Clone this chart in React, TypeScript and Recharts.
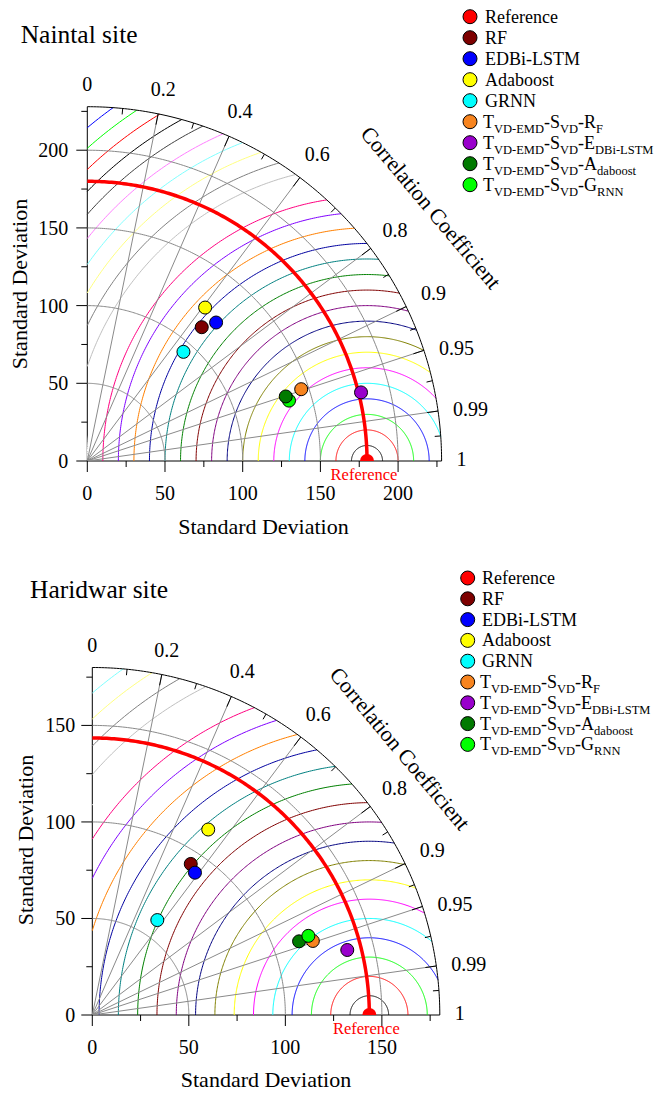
import React from 'react';
import { ScatterChart, Scatter, XAxis, YAxis, ReferenceDot } from 'recharts';

const FONT = '"Liberation Serif", "Times New Roman", Times, serif';

// ---------- data ----------
const modelNames = ['RF', 'EDBi-LSTM', 'Adaboost', 'GRNN', 'TVD-EMD-SVD-RF', 'TVD-EMD-SVD-EDBi-LSTM', 'TVD-EMD-SVD-Adaboost', 'TVD-EMD-SVD-GRNN'];
const modelColors = ['#7d0000', '#0000ff', '#ffff00', '#00ffff', '#f7841f', '#9900cc', '#007a00', '#00ff00'];
const referenceColor = '#ff0000';

// Naintal site: standard deviation and correlation of each model
const naintalStd = [113.3, 121.7, 124.5, 93.6, 145.2, 181.6, 134.3, 135.5];
const naintalCorr = [0.65, 0.681, 0.609, 0.661, 0.948, 0.97, 0.951, 0.958];
const naintalRefStd = 180;
const naintalMaxStd = 228;
const naintalDrawOrder = [0, 1, 2, 3, 7, 4, 5, 6];
const naintalStdTicks = [0, 25, 50, 75, 100, 125, 150, 175, 200, 225];
const naintalStdArcs = [50, 100, 150, 200];

// Haridwar site
const haridwarStd = [93.4, 90.9, 113.3, 59.6, 120.5, 136.3, 113.7, 119.2];
const haridwarCorr = [0.546, 0.585, 0.53, 0.565, 0.948, 0.969, 0.942, 0.939];
const haridwarRefStd = 143.5;
const haridwarMaxStd = 180;
const haridwarDrawOrder = [0, 1, 2, 3, 6, 4, 7, 5];
const haridwarStdTicks = [0, 25, 50, 75, 100, 125, 150, 175];
const haridwarStdArcs = [50, 100, 150];

// correlation axis
const corrLabels = ['0', '0.2', '0.4', '0.6', '0.8', '0.9', '0.95', '0.99', '1'];
const corrMajor = [0, 0.2, 0.4, 0.6, 0.8, 0.9, 0.95, 0.99, 1];
const corrMinor = [0.1, 0.3, 0.5, 0.7, 0.85, 0.927, 0.974, 0.9975];
const corrRays = [0.2, 0.4, 0.6, 0.8, 0.9, 0.95, 0.99];

// centred RMS difference contours (every 10 units) and their colours
const rmsStep = 10;
const rmsColors = ['#000000', '#ff0000', '#00ff00', '#0000ff', '#00ffff', '#ff00ff', '#ffff00', '#808000', '#000080', '#800080', '#800000', '#008000', '#008080', '#0000a0', '#ff8000', '#8000ff', '#ff0080', '#ffffff', '#c0c0c0', '#808080', '#ffff80', '#80ffff', '#ff80ff', '#404040'];

const legendParts: string[][] = [
  ['Reference'],
  ['RF'],
  ['EDBi-LSTM'],
  ['Adaboost'],
  ['GRNN'],
  ['T', 'VD-EMD', '-S', 'VD', '-R', 'F'],
  ['T', 'VD-EMD', '-S', 'VD', '-E', 'DBi-LSTM'],
  ['T', 'VD-EMD', '-S', 'VD', '-A', 'daboost'],
  ['T', 'VD-EMD', '-S', 'VD', '-G', 'RNN'],
];

// ---------- geometry helpers ----------
type Pt = { x: number; y: number };
const clamp = (v: number, a: number, b: number) => Math.min(b, Math.max(a, v));
const sinOf = (c: number) => Math.sqrt(Math.max(0, 1 - c * c));

function circlePts(cx: number, r: number, a0: number, a1: number, R: number): Pt[] {
  const span = a1 - a0;
  const n = Math.max(8, Math.ceil((Math.abs(span) * 180) / Math.PI * 2));
  const pts: Pt[] = [];
  for (let i = 0; i <= n; i++) {
    const a = a0 + (span * i) / n;
    pts.push({ x: clamp(cx + r * Math.cos(a), 0, R), y: clamp(r * Math.sin(a), 0, R) });
  }
  return pts;
}

function rmsArc(ref: number, r: number, R: number): Pt[] | null {
  const cmin = clamp((R * R - ref * ref - r * r) / (2 * ref * r), -1, 1);
  const phiMin = Math.acos(cmin);
  const phiMax = Math.acos(clamp(-ref / r, -1, 1));
  if (phiMax - phiMin < 0.01) return null;
  return circlePts(ref, r, phiMin, phiMax, R);
}

const noShape = () => <g />;

const textWidth = (s: string) => s.split('').reduce((a, ch) => a + (ch === '.' ? 5 : 10), 0);

type PanelProps = {
  std: number[];
  corr: number[];
  refStd: number;
  maxStd: number;
  order: number[];
  stdTicks: number[];
  stdArcs: number[];
  originX: number;
  originY: number; // relative to chart top
  plotSize: number;
  chartHeight: number;
  yLabelGap: number;
  titleR: number; // px from origin
  titleAngle: number; // degrees
  titleRot: number;
};

function TaylorPanel(p: PanelProps) {
  const R = p.maxStd;
  const scale = p.plotSize / R;
  const width = 654;
  const axisW = 60;
  const axisH = 40;
  const margin = {
    top: p.originY - p.plotSize,
    left: p.originX - axisW,
    right: width - p.originX - p.plotSize,
    bottom: p.chartHeight - p.originY - axisH,
  };

  const XTick = (t: any) => {
    const v = t.payload.value;
    const major = v % 50 === 0;
    return (
      <g>
        <line x1={t.x} y1={t.y} x2={t.x} y2={t.y + (major ? 11 : 6)} stroke="#000" strokeWidth={1} />
        {major && (
          <text x={t.x} y={t.y + 39} textAnchor="middle" fontSize={20} fontFamily={FONT} fill="#000">
            {v}
          </text>
        )}
      </g>
    );
  };
  const YTick = (t: any) => {
    const v = t.payload.value;
    const major = v % 50 === 0;
    return (
      <g>
        <line x1={t.x - (major ? 11 : 6)} y1={t.y} x2={t.x} y2={t.y} stroke="#000" strokeWidth={1} />
        {major && (
          <text x={t.x - p.yLabelGap} y={t.y + 7} textAnchor="end" fontSize={20} fontFamily={FONT} fill="#000">
            {v}
          </text>
        )}
      </g>
    );
  };

  // RMS contours
  const rmsLines: { pts: Pt[]; color: string }[] = [];
  for (let i = 0; (i + 1) * rmsStep < p.refStd + R; i++) {
    const r = (i + 1) * rmsStep;
    const pts = rmsArc(p.refStd, r, R);
    if (pts) rmsLines.push({ pts, color: rmsColors[i % rmsColors.length] });
  }

  const tickSeg = (c: number, lenPx: number): Pt[] => {
    const s = sinOf(c);
    const r2 = R - lenPx / scale;
    return [
      { x: clamp(R * c, 0, R), y: clamp(R * s, 0, R) },
      { x: r2 * c, y: r2 * s },
    ];
  };

  // position of a correlation label (data units)
  const labelPos = (c: number, label: string): Pt => {
    const s = sinOf(c);
    const w = textWidth(label);
    if (c >= 0.95) {
      return { x: R * c + (15 + w / 2) / scale, y: R * s + 2 / scale };
    }
    const off = 16 + (w / 2) * c + 7 * s;
    const r = R + off / scale;
    return { x: r * c, y: r * s };
  };

  const titleA = (p.titleAngle * Math.PI) / 180;
  const titleRu = p.titleR / scale;

  return (
    <ScatterChart width={width} height={p.chartHeight} margin={margin}>
      <XAxis
        type="number"
        dataKey="x"
        domain={[0, R]}
        ticks={p.stdTicks}
        interval={0}
        tickSize={0}
        tickMargin={0}
        tickLine={false}
        axisLine={{ stroke: '#000', strokeWidth: 1 }}
        tick={(t: any) => <XTick {...t} />}
        height={axisH}
      />
      <YAxis
        type="number"
        dataKey="y"
        domain={[0, R]}
        ticks={p.stdTicks}
        interval={0}
        tickSize={0}
        tickMargin={0}
        tickLine={false}
        axisLine={{ stroke: '#000', strokeWidth: 1 }}
        tick={(t: any) => <YTick {...t} />}
        width={axisW}
      />
      {rmsLines.map((l, i) => (
        <Scatter key={'rms' + i} data={l.pts} line={{ stroke: l.color, strokeWidth: 1 }} lineType="joint" shape={noShape} isAnimationActive={false} />
      ))}
      {p.stdArcs.map((r) => (
        <Scatter key={'sa' + r} data={circlePts(0, r, 0, Math.PI / 2, R)} line={{ stroke: '#8a8a8a', strokeWidth: 1 }} lineType="joint" shape={noShape} isAnimationActive={false} />
      ))}
      {corrRays.map((c) => (
        <Scatter key={'ray' + c} data={[{ x: 0, y: 0 }, { x: R * c, y: R * sinOf(c) }]} line={{ stroke: '#8a8a8a', strokeWidth: 1 }} lineType="joint" shape={noShape} isAnimationActive={false} />
      ))}
      <Scatter data={circlePts(0, p.refStd, 0, Math.PI / 2, R)} line={{ stroke: referenceColor, strokeWidth: 3.5 }} lineType="joint" shape={noShape} isAnimationActive={false} />
      <Scatter data={circlePts(0, R, 0, Math.PI / 2, R)} line={{ stroke: '#000', strokeWidth: 1 }} lineType="joint" shape={noShape} isAnimationActive={false} />
      {corrMajor.slice(1, -1).map((c) => (
        <Scatter key={'mt' + c} data={tickSeg(c, 11)} line={{ stroke: '#000', strokeWidth: 1 }} lineType="joint" shape={noShape} isAnimationActive={false} />
      ))}
      {corrMinor.map((c) => (
        <Scatter key={'nt' + c} data={tickSeg(c, 6)} line={{ stroke: '#000', strokeWidth: 1 }} lineType="joint" shape={noShape} isAnimationActive={false} />
      ))}
      <Scatter
        data={[{ x: p.refStd, y: 0 }]}
        shape={(s: any) => <path d={`M${s.cx - 7},${s.cy} A7,7 0 0 1 ${s.cx + 7},${s.cy} Z`} fill={referenceColor} />}
        isAnimationActive={false}
      />
      {p.order.map((i) => (
        <Scatter
          key={'m' + i}
          name={modelNames[i]}
          data={[{ x: p.std[i] * p.corr[i], y: p.std[i] * sinOf(p.corr[i]) }]}
          shape={(s: any) => <circle cx={s.cx} cy={s.cy} r={6.5} fill={modelColors[i]} stroke="#000" strokeWidth={1} />}
          isAnimationActive={false}
        />
      ))}
      {corrMajor.map((c, i) => {
        const pos = labelPos(c, corrLabels[i]);
        return (
          <ReferenceDot
            key={'cl' + i}
            x={pos.x}
            y={pos.y}
            ifOverflow="visible"
            shape={(d: any) => (
              <text x={d.cx} y={d.cy} textAnchor="middle" dominantBaseline="central" fontSize={20} fontFamily={FONT} fill="#000">
                {corrLabels[i]}
              </text>
            )}
          />
        );
      })}
      <ReferenceDot
        x={titleRu * Math.cos(titleA)}
        y={titleRu * Math.sin(titleA)}
        ifOverflow="visible"
        shape={(d: any) => (
          <text x={d.cx} y={d.cy} textAnchor="middle" dominantBaseline="central" fontSize={22} fontFamily={FONT} fill="#000" transform={`rotate(${p.titleRot} ${d.cx} ${d.cy})`}>
            Correlation Coefficient
          </text>
        )}
      />
      <ReferenceDot
        x={p.refStd}
        y={0}
        ifOverflow="visible"
        shape={(d: any) => (
          <text x={d.cx - 3} y={d.cy + 19} textAnchor="middle" fontSize={16.5} fontFamily={FONT} fill={referenceColor}>
            Reference
          </text>
        )}
      />
    </ScatterChart>
  );
}

function LegendBlock({ cx, y0, step, textX }: { cx: number; y0: number; step: number; textX: number }) {
  const colors = [referenceColor, ...modelColors];
  return (
    <g>
      {legendParts.map((parts, i) => {
        const cy = y0 + i * step;
        return (
          <g key={i}>
            <circle cx={cx} cy={cy} r={7} fill={colors[i]} stroke="#000" strokeWidth={1} />
            <text x={parts.length > 1 ? textX - 2 : textX} y={cy + 6} fontSize={18} fontFamily={FONT} fill="#000">
              {parts.map((s, k) => (
                <tspan key={k} fontSize={k % 2 ? 12.5 : 18} dy={k === 0 ? 0 : k % 2 ? 5 : -5}>
                  {s}
                </tspan>
              ))}
            </text>
          </g>
        );
      })}
    </g>
  );
}

export default function App() {
  return (
    <div style={{ position: 'absolute', left: 0, top: 0, width: 654, height: 1093, background: '#fff', fontFamily: FONT, overflow: 'hidden' }}>
      <div style={{ position: 'absolute', left: 0, top: 0 }}>
        <TaylorPanel
          std={naintalStd}
          corr={naintalCorr}
          refStd={naintalRefStd}
          maxStd={naintalMaxStd}
          order={naintalDrawOrder}
          stdTicks={naintalStdTicks}
          stdArcs={naintalStdArcs}
          originX={87.3}
          originY={461}
          plotSize={354.3}
          chartHeight={530}
          yLabelGap={19}
          titleR={427}
          titleAngle={36.4}
          titleRot={50}
        />
      </div>
      <div style={{ position: 'absolute', left: 0, top: 560 }}>
        <TaylorPanel
          std={haridwarStd}
          corr={haridwarCorr}
          refStd={haridwarRefStd}
          maxStd={haridwarMaxStd}
          order={haridwarDrawOrder}
          stdTicks={haridwarStdTicks}
          stdArcs={haridwarStdArcs}
          originX={92.3}
          originY={455}
          plotSize={347.5}
          chartHeight={533}
          yLabelGap={17}
          titleR={407}
          titleAngle={40.9}
          titleRot={50}
        />
      </div>
      <svg style={{ position: 'absolute', left: 0, top: 0, pointerEvents: 'none' }} width={654} height={1093}>
        <text x={20.7} y={42.7} fontSize={25.5} fontFamily={FONT} fill="#000">Naintal site</text>
        <text x={30} y={597.7} fontSize={25.5} fontFamily={FONT} fill="#000">Haridwar site</text>
        <text x={263.5} y={533.5} textAnchor="middle" fontSize={22} fontFamily={FONT} fill="#000">Standard Deviation</text>
        <text x={266} y={1087} textAnchor="middle" fontSize={22} fontFamily={FONT} fill="#000">Standard Deviation</text>
        <text x={0} y={0} textAnchor="middle" fontSize={22} fontFamily={FONT} fill="#000" transform="translate(26.5 284) rotate(-90)">Standard Deviation</text>
        <text x={0} y={0} textAnchor="middle" fontSize={22} fontFamily={FONT} fill="#000" transform="translate(33 840) rotate(-90)">Standard Deviation</text>
        <LegendBlock cx={470} y0={16.7} step={21} textX={485} />
        <LegendBlock cx={467.7} y0={578} step={20.8} textX={482} />
      </svg>
    </div>
  );
}
